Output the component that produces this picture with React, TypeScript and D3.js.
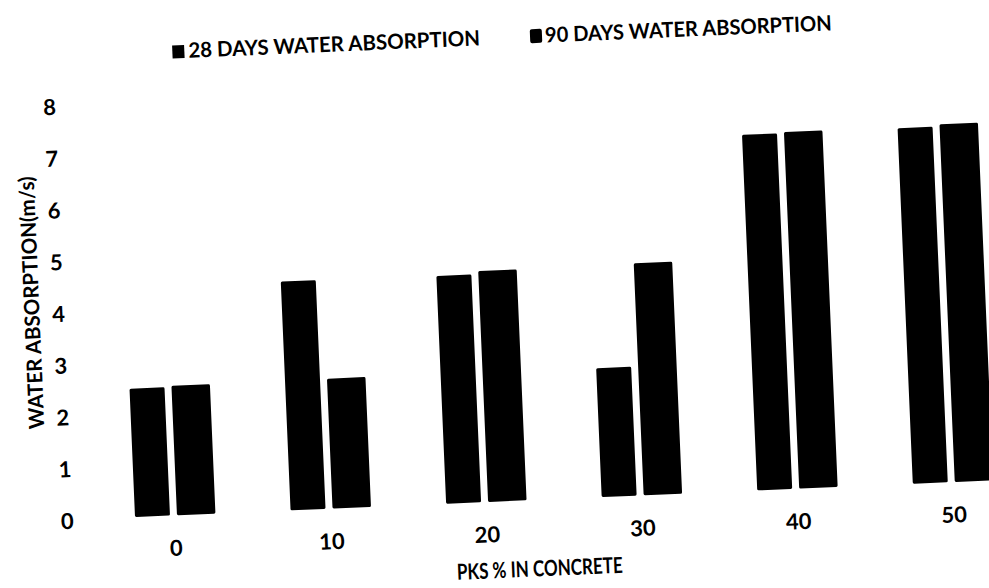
import React from "react";
import * as d3 from "d3";

const categories = ["0", "10", "20", "30", "40", "50"];
const days28 = [2.48, 4.42, 4.4, 2.49, 6.87, 6.87];
const days90 = [2.5, 2.51, 4.46, 4.48, 6.89, 6.91];
const yTicks = [0, 1, 2, 3, 4, 5, 6, 7, 8];
const seriesNames = ["28 DAYS WATER ABSORPTION", "90 DAYS WATER ABSORPTION"];
const xTitle = "PKS % IN CONCRETE";
const yTitle = "WATER ABSORPTION(m/s)";

const W = 989;
const H = 588;
const FONT = "Lato, 'Open Sans', 'DejaVu Sans', sans-serif";

export default function App() {
  const x = d3.scalePoint<string>().domain(categories).range([165.8, 944.3]);
  const y = d3.scaleLinear().domain([0, 8]).range([501.5, 87.1]);

  return (
    <svg
      width={W}
      height={H}
      style={{ position: "absolute", left: 0, top: 0, background: "#fff" }}
    >
      <rect x={0} y={0} width={W} height={H} fill="#fff" />
      <g transform="rotate(-2.45 494 294)" fontFamily={FONT} fill="#000">
        {categories.map((c, i) => {
          const cx = x(c) as number;
          return (
            <g key={c}>
              <rect
                x={cx - 40}
                width={35}
                y={y(days28[i])}
                height={y(0) - y(days28[i])}
                rx={1.5}
                fill="#000"
              />
              <rect
                x={cx + 2}
                width={38.5}
                y={y(days90[i])}
                height={y(0) - y(days90[i])}
                rx={1.5}
                fill="#000"
              />
            </g>
          );
        })}
        {yTicks.map((t) => (
          <text
            key={t}
            x={58}
            y={y(t) + 9}
            textAnchor="middle"
            fontSize={22}
            fontWeight={700}
          >
            {t}
          </text>
        ))}
        {categories.map((c) => (
          <text
            key={c}
            x={x(c) as number}
            y={542}
            textAnchor="middle"
            fontSize={22}
            fontWeight={700}
          >
            {c}
          </text>
        ))}
        <text
          x={528}
          y={578}
          textAnchor="middle"
          fontSize={22}
          fontWeight={700}
          textLength={166}
          lengthAdjust="spacingAndGlyphs"
        >
          {xTitle}
        </text>
        <text
          transform="translate(39 283) rotate(-90)"
          textAnchor="middle"
          fontSize={21}
          fontWeight={700}
          textLength={253}
          lengthAdjust="spacingAndGlyphs"
        >
          {yTitle}
        </text>
        <rect x={183} y={32} width={12} height={13} fill="#000" />
        <text
          x={199}
          y={45}
          fontSize={21}
          fontWeight={700}
          textLength={292}
          lengthAdjust="spacingAndGlyphs"
        >
          {seriesNames[0]}
        </text>
        <rect x={541} y={31} width={12} height={14} rx={2} fill="#000" />
        <text
          x={556}
          y={45}
          fontSize={21}
          fontWeight={700}
          textLength={287}
          lengthAdjust="spacingAndGlyphs"
        >
          {seriesNames[1]}
        </text>
      </g>
    </svg>
  );
}
